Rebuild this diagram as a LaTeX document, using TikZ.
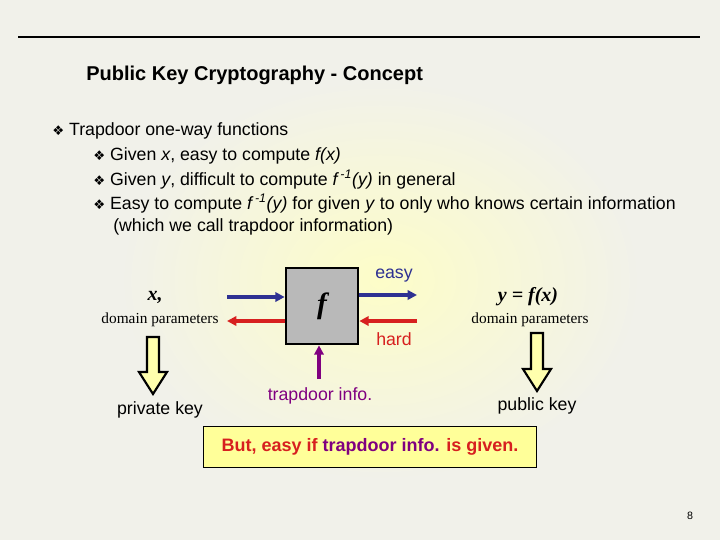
\documentclass[tikz,border=0pt]{standalone}
\usepackage{fontspec}
\setmainfont{Liberation Sans}
\newfontfamily\serif{Liberation Serif}
\newfontfamily\dv{DejaVu Sans}
\usetikzlibrary{arrows.meta}
\definecolor{bgc}{HTML}{F1F1EA}
\definecolor{glow}{HTML}{FDFDC8}
\definecolor{myblue}{HTML}{2E3192}
\definecolor{myred}{HTML}{D7201F}
\definecolor{mypurple}{HTML}{800080}
\definecolor{ybox}{HTML}{FFFF99}
\begin{document}
\begin{tikzpicture}[x=0.75pt,y=-0.75pt,
  txt/.style={font=\fontsize{13.3}{15}\selectfont, anchor=west, inner sep=0},
  ser/.style={font=\serif\fontsize{11.5}{13}\selectfont, inner sep=0},
  arr/.style={line width=2.6pt,-{Triangle[length=7pt,width=7pt]}},
  hollow/.style={fill=ybox!80!white, draw=black, line width=1.6pt}]
\useasboundingbox (0,0) rectangle (720,540);
\fill[bgc] (0,0) rectangle (720,540);
\shade[inner color=glow, outer color=bgc] (120,80) rectangle (640,480);
\draw[line width=1.6pt] (18,37) -- (700,37);
\node[txt, font=\bfseries\fontsize{15}{18}\selectfont] (title) at (86,75) {Public Key Cryptography - Concept};
\node[txt] (b1) at (52,131) {{\dv\fontsize{10}{12}\selectfont ❖} Trapdoor one-way functions};
\node[txt] (b2) at (93,156) {{\dv\fontsize{10}{12}\selectfont ❖} Given \textit{x}, easy to compute \textit{f(x)}};
\node[txt] (b3) at (93,180) {{\dv\fontsize{10}{12}\selectfont ❖} Given \textit{y}, difficult to compute \textit{f\,\textsuperscript{-1}(y)} in general};
\node[txt] (b4) at (93,204) {{\dv\fontsize{10}{12}\selectfont ❖} Easy to compute \textit{f\,\textsuperscript{-1}(y)} for given \textit{y} to only who knows certain information};
\node[txt] (b5) at (113,227) {(which we call trapdoor information)};
% f box
\node[draw=black, line width=2pt, fill=gray!55, minimum width=54pt, minimum height=57pt, inner sep=0,
  font=\serif\bfseries\itshape\fontsize{22}{24}\selectfont] (f) at (322,306) {f};
\coordinate (lin) at (227,297);
\coordinate (rout) at (417,295);
\coordinate (rin) at (417,321);
\coordinate (lout) at (227,321);
\coordinate (tb) at (319,379);
\draw[arr, myblue] (lin) -- (lin -| f.west);
\draw[arr, myblue] (rout -| f.east) -- (rout);
\draw[arr, myred] (rin) -- (rin -| f.east);
\draw[arr, myred] (lout -| f.west) -- (lout);
\draw[arr, mypurple] (tb) -- (tb |- f.south);
\node[txt, myblue] (easy) at (375,276) {easy};
\node[txt, myred] (hard) at (376,339) {hard};
\node[font=\fontsize{13.3}{15}\selectfont, mypurple, inner sep=0] (td) at (320,396) {trapdoor info.};
\node[ser, font=\serif\bfseries\itshape\fontsize{15}{18}\selectfont] (x) at (155,297) {x,};
\node[ser] (dp1) at (160,320) {domain parameters};
\node[ser, font=\serif\bfseries\itshape\fontsize{15}{18}\selectfont] (y) at (528,297) {y = f(x)};
\node[ser] (dp2) at (530,320) {domain parameters};
\draw[hollow] (147,337) -- (159,337) -- (159,372) -- (167,372) -- (153,394) -- (139,372) -- (147,372) -- cycle;
\draw[hollow] (531,333) -- (543,333) -- (543,369) -- (551,369) -- (537,391) -- (523,369) -- (531,369) -- cycle;
\node[font=\fontsize{13.3}{15}\selectfont, inner sep=0] (pk) at (160,410) {private key};
\node[font=\fontsize{13.3}{15}\selectfont, inner sep=0] (pub) at (537,406) {public key};
\node[draw=black, line width=0.8pt, fill=ybox, minimum width=250pt, minimum height=31pt, inner sep=0,
  font=\bfseries\fontsize{13.5}{16}\selectfont] (but) at (370,447) {\textcolor{myred}{But, easy if} \textcolor{mypurple}{trapdoor info.} \textcolor{myred}{is given.}};
\node[font=\fontsize{8}{10}\selectfont, inner sep=0] (pg) at (690,516) {8};
\end{tikzpicture}
\end{document}
